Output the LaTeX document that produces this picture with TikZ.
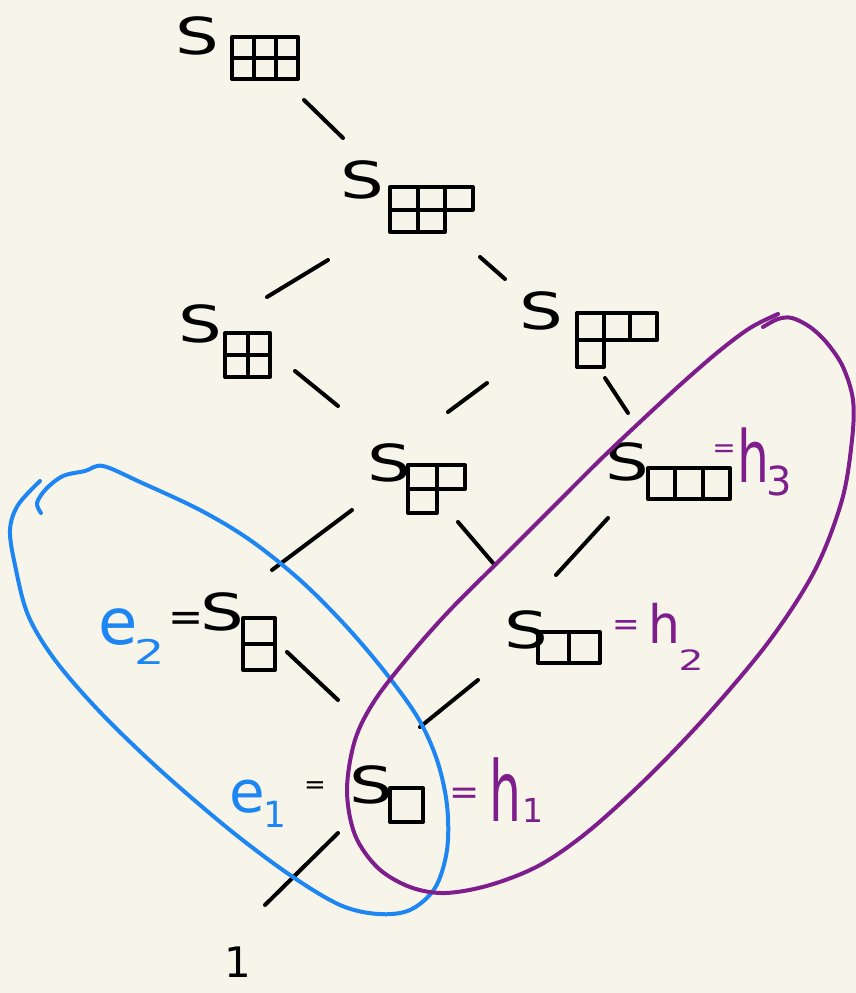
\documentclass[tikz,border=0pt]{standalone}
\usepackage{fontspec}
\setmainfont{DejaVu Sans}
\definecolor{bg}{HTML}{F7F5EA}
\definecolor{eblue}{HTML}{1E86F2}
\definecolor{hpurp}{HTML}{7D1E8C}
\newcommand{\fsz}[1]{\fontsize{#1}{#1}\selectfont}
\newcommand{\bigS}{\scalebox{1.35}[1]{\fsz{51}S}}
% x y cellw cellh {row lengths}
\newcommand{\youngd}[5]{%
  \foreach \len [count=\r from 0] in {#5} {
    \foreach \c in {1,...,\len} {
      \draw[yd] ({#1+(\c-1)*#3},{#2+\r*#4}) rectangle ++(#3,#4);
    }
  }%
}
\begin{document}
\begin{tikzpicture}[x=1pt,y=-1pt,
  txt/.style={inner sep=0pt, outer sep=0pt},
  yd/.style={line width=4pt, line join=round, black},
  edge/.style={line width=4pt, line cap=round, black},
  loop/.style={line width=4pt, line cap=round, line join=round}]
\fill[bg] (0,0) rectangle (856,993);
\useasboundingbox (0,0) rectangle (856,993);

% S labels
\node[txt] (s33) at (197,36) {\bigS};
\node[txt] (s32) at (362,180) {\bigS};
\node[txt] (s22) at (200,324) {\bigS};
\node[txt] (s31) at (541,311) {\bigS};
\node[txt] (s21) at (389,463) {\bigS};
\node[txt] (s3)  at (627,462) {\bigS};
\node[txt] (s11) at (222,612) {\bigS};
\node[txt] (s2)  at (526,630) {\bigS};
\node[txt] (s1)  at (371,785) {\bigS};
\node[txt] (one) at (238,962) {\fsz{42}1};

% Young diagrams
\youngd{232}{37}{22}{21}{3,3}
\youngd{390}{187}{27.5}{22.5}{3,2}
\youngd{225}{333}{22.5}{22}{2,2}
\youngd{577}{313}{26.7}{27}{3,1}
\youngd{408}{465}{28.5}{24}{2,1}
\youngd{648}{468}{27.3}{31}{3}
\youngd{243}{618}{32}{26}{1,1}
\youngd{538}{632}{31}{31}{2}
\youngd{390}{788}{33}{34}{1}

% e labels (blue) and = signs
\node[txt, text=eblue] (e2) at (118,627) {\fsz{64}e};
\node[txt, text=eblue] (e2s) at (150,652) {\scalebox{1.4}[1]{\fsz{34}2}};
\node[txt] (eq2) at (186,622) {\fsz{42}=};
\node[txt, text=eblue] (e1) at (247,797) {\fsz{58}e};
\node[txt, text=eblue] (e1s) at (275,814) {\fsz{36}1};
\node[txt] (eq1) at (315,788) {\fsz{26}=};

% h labels (purple)
\node[txt, text=hpurp] (eqh1) at (465,796) {\fsz{36}=};
\node[txt, text=hpurp] (h1) at (505,790) {\scalebox{0.6}[1]{\fsz{84}h}};
\node[txt, text=hpurp] (h1s) at (533,810) {\fsz{33}1};
\node[txt, text=hpurp] (eqh2) at (626,628) {\fsz{33}=};
\node[txt, text=hpurp] (h2) at (664,623) {\scalebox{0.95}[1]{\fsz{53}h}};
\node[txt, text=hpurp] (h2s) at (691,660) {\scalebox{1.4}[1]{\fsz{28}2}};
\node[txt, text=hpurp] (eqh3) at (724,451) {\fsz{28}=};
\node[txt, text=hpurp] (h3) at (753,455) {\scalebox{0.7}[1]{\fsz{72}h}};
\node[txt, text=hpurp] (h3s) at (779,481) {\fsz{40}3};

% connectors (short strokes between the labels)
\coordinate (a1) at (304,100); \coordinate (b1) at (343,138);
\coordinate (a2) at (328,260); \coordinate (b2) at (267,297);
\coordinate (a3) at (480,257); \coordinate (b3) at (505,279);
\coordinate (a4) at (295,371); \coordinate (b4) at (338,406);
\coordinate (a5) at (487,383); \coordinate (b5) at (448,412);
\coordinate (a6) at (605,378); \coordinate (b6) at (628,413);
\coordinate (a7) at (352,510); \coordinate (b7) at (272,570);
\coordinate (a8) at (458,522); \coordinate (b8) at (493,563);
\coordinate (a9) at (608,518); \coordinate (b9) at (556,575);
\coordinate (a10) at (287,652); \coordinate (b10) at (338,700);
\coordinate (a11) at (478,680); \coordinate (b11) at (420,727);
\coordinate (a12) at (338,833); \coordinate (b12) at (265,905);
\foreach \i in {1,...,12} { \draw[edge] (a\i) -- (b\i); }

% blue loop
\draw[loop, eblue] plot[smooth, tension=0.55] coordinates {
 (41,513) (37,503) (46,489) (63,476) (85,471) (103,466) (140,482) (200,510)
 (250,540) (300,580) (345,625) (385,672) (418,718) (437,760) (447,805)
 (447,850) (435,888) (410,910) (378,914) (340,905) (290,875) (230,830)
 (160,770) (100,712) (55,660) (28,615) (15,565) (10,530) (18,505) (40,481)};

% purple loop
\draw[loop, hpurp] plot[smooth, tension=0.55] coordinates {
 (778,314) (750,328) (718,352) (680,385) (640,422) (600,460) (550,510)
 (500,560) (450,610) (410,655) (375,700) (355,740) (347,790) (355,835)
 (378,868) (410,887) (445,893) (490,885) (540,865) (590,830) (650,775)
 (710,712) (770,640) (815,570) (842,500) (852,440) (853,400) (843,367)
 (827,343) (810,327) (792,318) (778,319) (763,327)};
\end{tikzpicture}
\end{document}
